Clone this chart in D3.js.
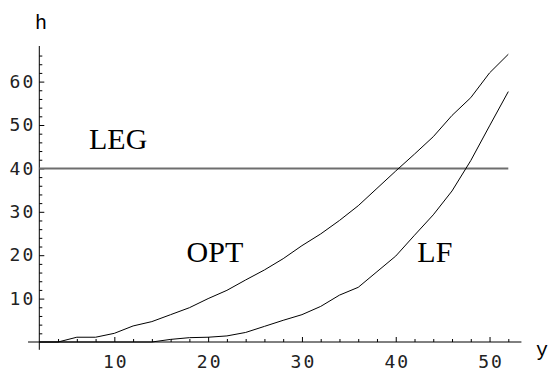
<!DOCTYPE html>
<html>
<head>
<meta charset="utf-8">
<script src="https://cdn.jsdelivr.net/npm/d3@7"></script>
<style>
  body { margin: 0; background: #fff; }
  svg { display: block; }
</style>
</head>
<body>
<div class="chart"></div>
<script>
// valeurs
const xValues = [2, 4, 6, 8, 10, 12, 14, 16, 18, 20, 22, 24, 26, 28, 30, 32, 34, 36, 38, 40, 42, 44, 46, 48, 50, 52];
const optValues = [0, 0, 1.1, 1.1, 2, 3.7, 4.7, 6.3, 7.9, 10, 11.9, 14.3, 16.6, 19.2, 22.2, 24.9, 28, 31.4, 35.4, 39.4, 43.3, 47.3, 52.2, 56.3, 62, 66.3];
const lfValues = [0, 0, 0, 0, 0, 0, 0, 0.6, 1.0, 1.1, 1.4, 2.2, 3.6, 5, 6.3, 8.2, 10.8, 12.6, 16.2, 19.8, 24.6, 29.3, 34.8, 41.8, 49.8, 57.7];
const legValue = 40;

const xTickLabels = [10, 20, 30, 40, 50];
const yTickLabels = [10, 20, 30, 40, 50, 60];
const xMinorTicks = [4, 6, 8, 12, 14, 16, 18, 22, 24, 26, 28, 32, 34, 36, 38, 42, 44, 46, 48, 52];
const yMinorTicks = [2, 4, 6, 8, 12, 14, 16, 18, 22, 24, 26, 28, 32, 34, 36, 38, 42, 44, 46, 48, 52, 54, 56, 58, 62, 64, 66];

const curveLabels = [
    { text: "LEG", x: 7.3, y: 44.5 },
    { text: "OPT", x: 17.7, y: 18.5 },
    { text: "LF", x: 42.3, y: 18.5 }
];

const width = 551;
const height = 371;

const svg = d3.select(".chart")
    .append("svg")
    .attr("width", width)
    .attr("height", height);

// échelles
const xScale = d3.scaleLinear().domain([2, 52]).range([39.3, 508.3]);
const yScale = d3.scaleLinear().domain([0, 60]).range([342, 81.6]);

const monoFont = "'DejaVu Sans Mono', monospace";

// axes (lignes)
svg.append("line")
    .attr("x1", xScale(0.8)).attr("x2", xScale(53.4))
    .attr("y1", yScale(0)).attr("y2", yScale(0))
    .attr("stroke", "#000").attr("stroke-width", 1);
svg.append("line")
    .attr("x1", xScale(2)).attr("x2", xScale(2))
    .attr("y1", yScale(-1.8)).attr("y2", yScale(68.2))
    .attr("stroke", "#000").attr("stroke-width", 1);

// graduations secondaires
const xMinor = d3.axisBottom(xScale).tickValues(xMinorTicks).tickSize(-3).tickFormat("");
svg.append("g").attr("transform", `translate(0,${yScale(0)})`).call(xMinor);
const yMinor = d3.axisLeft(yScale).tickValues(yMinorTicks).tickSize(-3).tickFormat("");
svg.append("g").attr("transform", `translate(${xScale(2)},0)`).call(yMinor);

// graduations principales
const xAxis = d3.axisBottom(xScale).tickValues(xTickLabels).tickSize(-5).tickPadding(13);
const gx = svg.append("g").attr("transform", `translate(0,${yScale(0)})`).call(xAxis);
const yAxis = d3.axisLeft(yScale).tickValues(yTickLabels).tickSize(-5).tickPadding(4);
const gy = svg.append("g").attr("transform", `translate(${xScale(2)},0)`).call(yAxis);

svg.selectAll(".domain").remove();
svg.selectAll(".tick line").attr("stroke", "#000").attr("stroke-width", 1);
svg.selectAll(".tick text")
    .attr("font-family", monoFont)
    .attr("font-size", 18)
    .attr("letter-spacing", 2)
    .attr("fill", "#222");
gx.selectAll(".tick text").attr("dx", 1);

// titres des axes
svg.append("text")
    .attr("x", 41).attr("y", 29)
    .attr("text-anchor", "middle")
    .attr("font-family", "'Liberation Mono', monospace")
    .attr("font-size", 20)
    .text("h");
svg.append("text")
    .attr("x", 542).attr("y", 356)
    .attr("text-anchor", "middle")
    .attr("font-family", "'Liberation Mono', monospace")
    .attr("font-size", 20)
    .text("y");

// ligne LEG
svg.append("line")
    .attr("x1", xScale(2)).attr("x2", xScale(52))
    .attr("y1", yScale(legValue)).attr("y2", yScale(legValue))
    .attr("stroke", "#6e6e6e").attr("stroke-width", 2);

// courbes
const line = d3.line()
    .x((d, i) => xScale(xValues[i]))
    .y(d => yScale(d));

svg.append("path")
    .datum(optValues)
    .attr("d", line)
    .attr("fill", "none")
    .attr("stroke", "#000")
    .attr("stroke-width", 1);

svg.append("path")
    .datum(lfValues)
    .attr("d", line)
    .attr("fill", "none")
    .attr("stroke", "#000")
    .attr("stroke-width", 1);

// étiquettes
svg.selectAll(".curve-label")
    .data(curveLabels)
    .enter()
    .append("text")
    .attr("class", "curve-label")
    .attr("x", d => xScale(d.x))
    .attr("y", d => yScale(d.y))
    .attr("font-family", "'Liberation Serif', serif")
    .attr("font-size", 30)
    .attr("fill", "#000")
    .text(d => d.text);
</script>
</body>
</html>
